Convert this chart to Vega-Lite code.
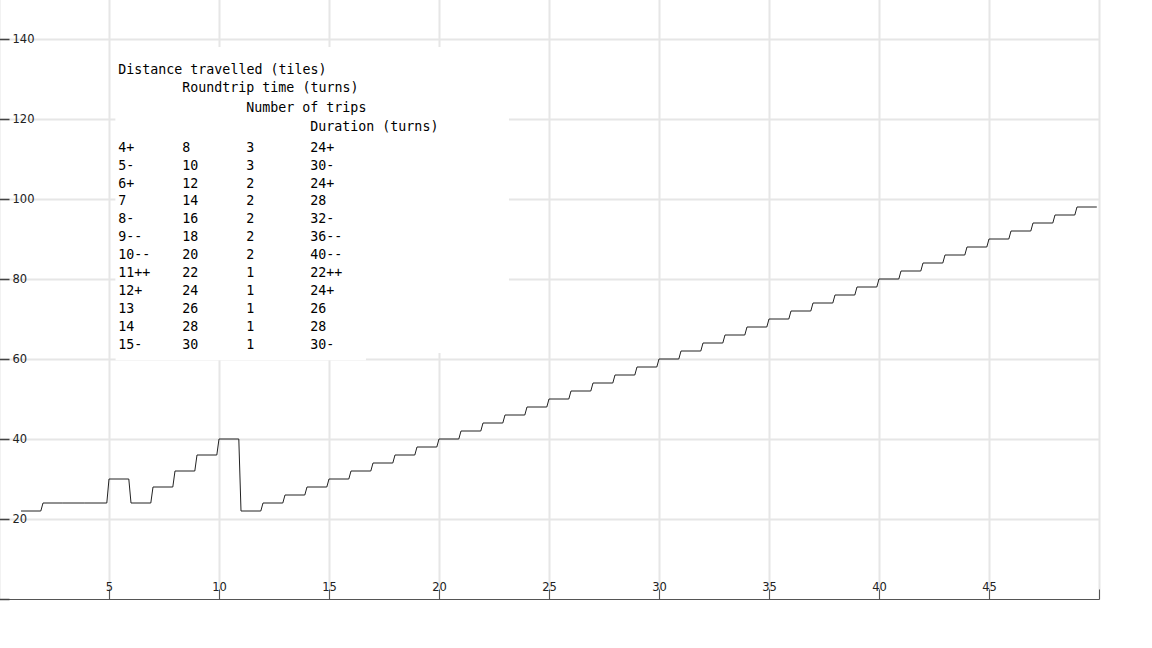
{
  "$schema": "https://vega.github.io/schema/vega-lite/v6.json",
  "width": 1100,
  "height": 600,
  "autosize": {"type": "none"},
  "padding": {"left": -1, "top": -1, "right": 3, "bottom": 3},
  "background": "white",
  "config": {"view": {"stroke": null}, "font": "DejaVu Sans"},
  "resolve": {"scale": {"x": "independent", "y": "independent"}},
  "layer": [
    {
      "layer": [
        {
          "data": {"values": [
            {"tiles":1,"turns":22},{"tiles":1.9,"turns":22},
            {"tiles":2,"turns":24},{"tiles":2.9,"turns":24},
            {"tiles":3,"turns":24},{"tiles":3.9,"turns":24},
            {"tiles":4,"turns":24},{"tiles":4.9,"turns":24},
            {"tiles":5,"turns":30},{"tiles":5.9,"turns":30},
            {"tiles":6,"turns":24},{"tiles":6.9,"turns":24},
            {"tiles":7,"turns":28},{"tiles":7.9,"turns":28},
            {"tiles":8,"turns":32},{"tiles":8.9,"turns":32},
            {"tiles":9,"turns":36},{"tiles":9.9,"turns":36},
            {"tiles":10,"turns":40},{"tiles":10.9,"turns":40},
            {"tiles":11,"turns":22},{"tiles":11.9,"turns":22},
            {"tiles":12,"turns":24},{"tiles":12.9,"turns":24},
            {"tiles":13,"turns":26},{"tiles":13.9,"turns":26},
            {"tiles":14,"turns":28},{"tiles":14.9,"turns":28},
            {"tiles":15,"turns":30},{"tiles":15.9,"turns":30},
            {"tiles":16,"turns":32},{"tiles":16.9,"turns":32},
            {"tiles":17,"turns":34},{"tiles":17.9,"turns":34},
            {"tiles":18,"turns":36},{"tiles":18.9,"turns":36},
            {"tiles":19,"turns":38},{"tiles":19.9,"turns":38},
            {"tiles":20,"turns":40},{"tiles":20.9,"turns":40},
            {"tiles":21,"turns":42},{"tiles":21.9,"turns":42},
            {"tiles":22,"turns":44},{"tiles":22.9,"turns":44},
            {"tiles":23,"turns":46},{"tiles":23.9,"turns":46},
            {"tiles":24,"turns":48},{"tiles":24.9,"turns":48},
            {"tiles":25,"turns":50},{"tiles":25.9,"turns":50},
            {"tiles":26,"turns":52},{"tiles":26.9,"turns":52},
            {"tiles":27,"turns":54},{"tiles":27.9,"turns":54},
            {"tiles":28,"turns":56},{"tiles":28.9,"turns":56},
            {"tiles":29,"turns":58},{"tiles":29.9,"turns":58},
            {"tiles":30,"turns":60},{"tiles":30.9,"turns":60},
            {"tiles":31,"turns":62},{"tiles":31.9,"turns":62},
            {"tiles":32,"turns":64},{"tiles":32.9,"turns":64},
            {"tiles":33,"turns":66},{"tiles":33.9,"turns":66},
            {"tiles":34,"turns":68},{"tiles":34.9,"turns":68},
            {"tiles":35,"turns":70},{"tiles":35.9,"turns":70},
            {"tiles":36,"turns":72},{"tiles":36.9,"turns":72},
            {"tiles":37,"turns":74},{"tiles":37.9,"turns":74},
            {"tiles":38,"turns":76},{"tiles":38.9,"turns":76},
            {"tiles":39,"turns":78},{"tiles":39.9,"turns":78},
            {"tiles":40,"turns":80},{"tiles":40.9,"turns":80},
            {"tiles":41,"turns":82},{"tiles":41.9,"turns":82},
            {"tiles":42,"turns":84},{"tiles":42.9,"turns":84},
            {"tiles":43,"turns":86},{"tiles":43.9,"turns":86},
            {"tiles":44,"turns":88},{"tiles":44.9,"turns":88},
            {"tiles":45,"turns":90},{"tiles":45.9,"turns":90},
            {"tiles":46,"turns":92},{"tiles":46.9,"turns":92},
            {"tiles":47,"turns":94},{"tiles":47.9,"turns":94},
            {"tiles":48,"turns":96},{"tiles":48.9,"turns":96},
            {"tiles":49,"turns":98},{"tiles":49.9,"turns":98}
          ]},
          "mark": {"type": "line", "stroke": "#222", "strokeWidth": 1},
          "encoding": {
            "x": {
              "field": "tiles", "type": "quantitative",
              "scale": {"domain": [0, 50], "nice": false, "zero": false},
              "axis": {
                "title": null,
                "values": [0, 5, 10, 15, 20, 25, 30, 35, 40, 45, 50],
                "labelExpr": "datum.value == 0 || datum.value == 50 ? '' : datum.label",
                "grid": true, "gridColor": "#e6e6e6", "gridWidth": 2,
                "domainColor": "#555", "domainWidth": 1,
                "tickColor": "#555", "tickWidth": 1, "tickSize": -10,
                "labelPadding": 1, "labelBaseline": "alphabetic", "labelFlush": false,
                "labelFont": "DejaVu Sans", "labelFontSize": 11.5, "labelColor": "#222"
              }
            },
            "y": {
              "field": "turns", "type": "quantitative",
              "scale": {"domain": [0, 150], "nice": false},
              "axis": {
                "title": null,
                "orient": "right", "offset": -1100,
                "values": [0, 20, 40, 60, 80, 100, 120, 140],
                "labelExpr": "datum.value == 0 ? '' : datum.label",
                "grid": true,
                "gridColor": {"condition": {"test": "datum.value == 0", "value": "transparent"}, "value": "#e6e6e6"},
                "gridWidth": 2,
                "domain": false,
                "tickColor": "#444", "tickWidth": 1.5, "tickSize": 10,
                "labelPadding": 3, "labelAlign": "left", "labelBaseline": "middle",
                "labelFont": "DejaVu Sans", "labelFontSize": 11.5, "labelColor": "#222"
              }
            }
          }
        },
        {
          "data": {"values": [{}]},
          "mark": {"type": "rect", "fill": "white"},
          "encoding": {"x": {"datum": 5.3}, "x2": {"datum": 23.18}, "y": {"datum": 138}, "y2": {"datum": 61.5}}
        },
        {
          "data": {"values": [{}]},
          "mark": {"type": "rect", "fill": "white"},
          "encoding": {"x": {"datum": 5.3}, "x2": {"datum": 16.68}, "y": {"datum": 138}, "y2": {"datum": 59.7}}
        }
      ]
    },
    {
      "data": {"values": [
        {"row":1,"dist":"4+","rtt":"8","trips":"3","dur":"24+"},
        {"row":2,"dist":"5-","rtt":"10","trips":"3","dur":"30-"},
        {"row":3,"dist":"6+","rtt":"12","trips":"2","dur":"24+"},
        {"row":4,"dist":"7","rtt":"14","trips":"2","dur":"28"},
        {"row":5,"dist":"8-","rtt":"16","trips":"2","dur":"32-"},
        {"row":6,"dist":"9--","rtt":"18","trips":"2","dur":"36--"},
        {"row":7,"dist":"10--","rtt":"20","trips":"2","dur":"40--"},
        {"row":8,"dist":"11++","rtt":"22","trips":"1","dur":"22++"},
        {"row":9,"dist":"12+","rtt":"24","trips":"1","dur":"24+"},
        {"row":10,"dist":"13","rtt":"26","trips":"1","dur":"26"},
        {"row":11,"dist":"14","rtt":"28","trips":"1","dur":"28"},
        {"row":12,"dist":"15-","rtt":"30","trips":"1","dur":"30-"}
      ]},
      "layer": [
        {
          "mark": {"type": "text", "align": "left", "baseline": "alphabetic", "font": "DejaVu Sans Mono", "fontSize": 13.3, "color": "#000"},
          "encoding": {
            "x": {"datum": 1, "scale": {"domain": [1, 4], "range": [119.3, 311.3], "nice": false, "zero": false}, "axis": null},
            "y": {"field": "row", "type": "quantitative", "scale": {"domain": [-3.33, 12], "range": [75, 350], "nice": false, "zero": false}, "axis": null},
            "text": {"field": "dist"}
          }
        },
        {
          "mark": {"type": "text", "align": "left", "baseline": "alphabetic", "font": "DejaVu Sans Mono", "fontSize": 13.3, "color": "#000"},
          "encoding": {"x": {"datum": 2}, "y": {"field": "row", "type": "quantitative"}, "text": {"field": "rtt"}}
        },
        {
          "mark": {"type": "text", "align": "left", "baseline": "alphabetic", "font": "DejaVu Sans Mono", "fontSize": 13.3, "color": "#000"},
          "encoding": {"x": {"datum": 3}, "y": {"field": "row", "type": "quantitative"}, "text": {"field": "trips"}}
        },
        {
          "mark": {"type": "text", "align": "left", "baseline": "alphabetic", "font": "DejaVu Sans Mono", "fontSize": 13.3, "color": "#000"},
          "encoding": {"x": {"datum": 4}, "y": {"field": "row", "type": "quantitative"}, "text": {"field": "dur"}}
        },
        {
          "data": {"values": [{"header": "Distance travelled (tiles)"}]},
          "mark": {"type": "text", "align": "left", "baseline": "alphabetic", "font": "DejaVu Sans Mono", "fontSize": 13.3, "color": "#000"},
          "encoding": {"x": {"datum": 1}, "y": {"datum": -3.33}, "text": {"field": "header"}}
        },
        {
          "data": {"values": [{"header": "Roundtrip time (turns)"}]},
          "mark": {"type": "text", "align": "left", "baseline": "alphabetic", "font": "DejaVu Sans Mono", "fontSize": 13.3, "color": "#000"},
          "encoding": {"x": {"datum": 2}, "y": {"datum": -2.345}, "text": {"field": "header"}}
        },
        {
          "data": {"values": [{"header": "Number of trips"}]},
          "mark": {"type": "text", "align": "left", "baseline": "alphabetic", "font": "DejaVu Sans Mono", "fontSize": 13.3, "color": "#000"},
          "encoding": {"x": {"datum": 3}, "y": {"datum": -1.2}, "text": {"field": "header"}}
        },
        {
          "data": {"values": [{"header": "Duration (turns)"}]},
          "mark": {"type": "text", "align": "left", "baseline": "alphabetic", "font": "DejaVu Sans Mono", "fontSize": 13.3, "color": "#000"},
          "encoding": {"x": {"datum": 4}, "y": {"datum": -0.137}, "text": {"field": "header"}}
        }
      ]
    }
  ]
}
